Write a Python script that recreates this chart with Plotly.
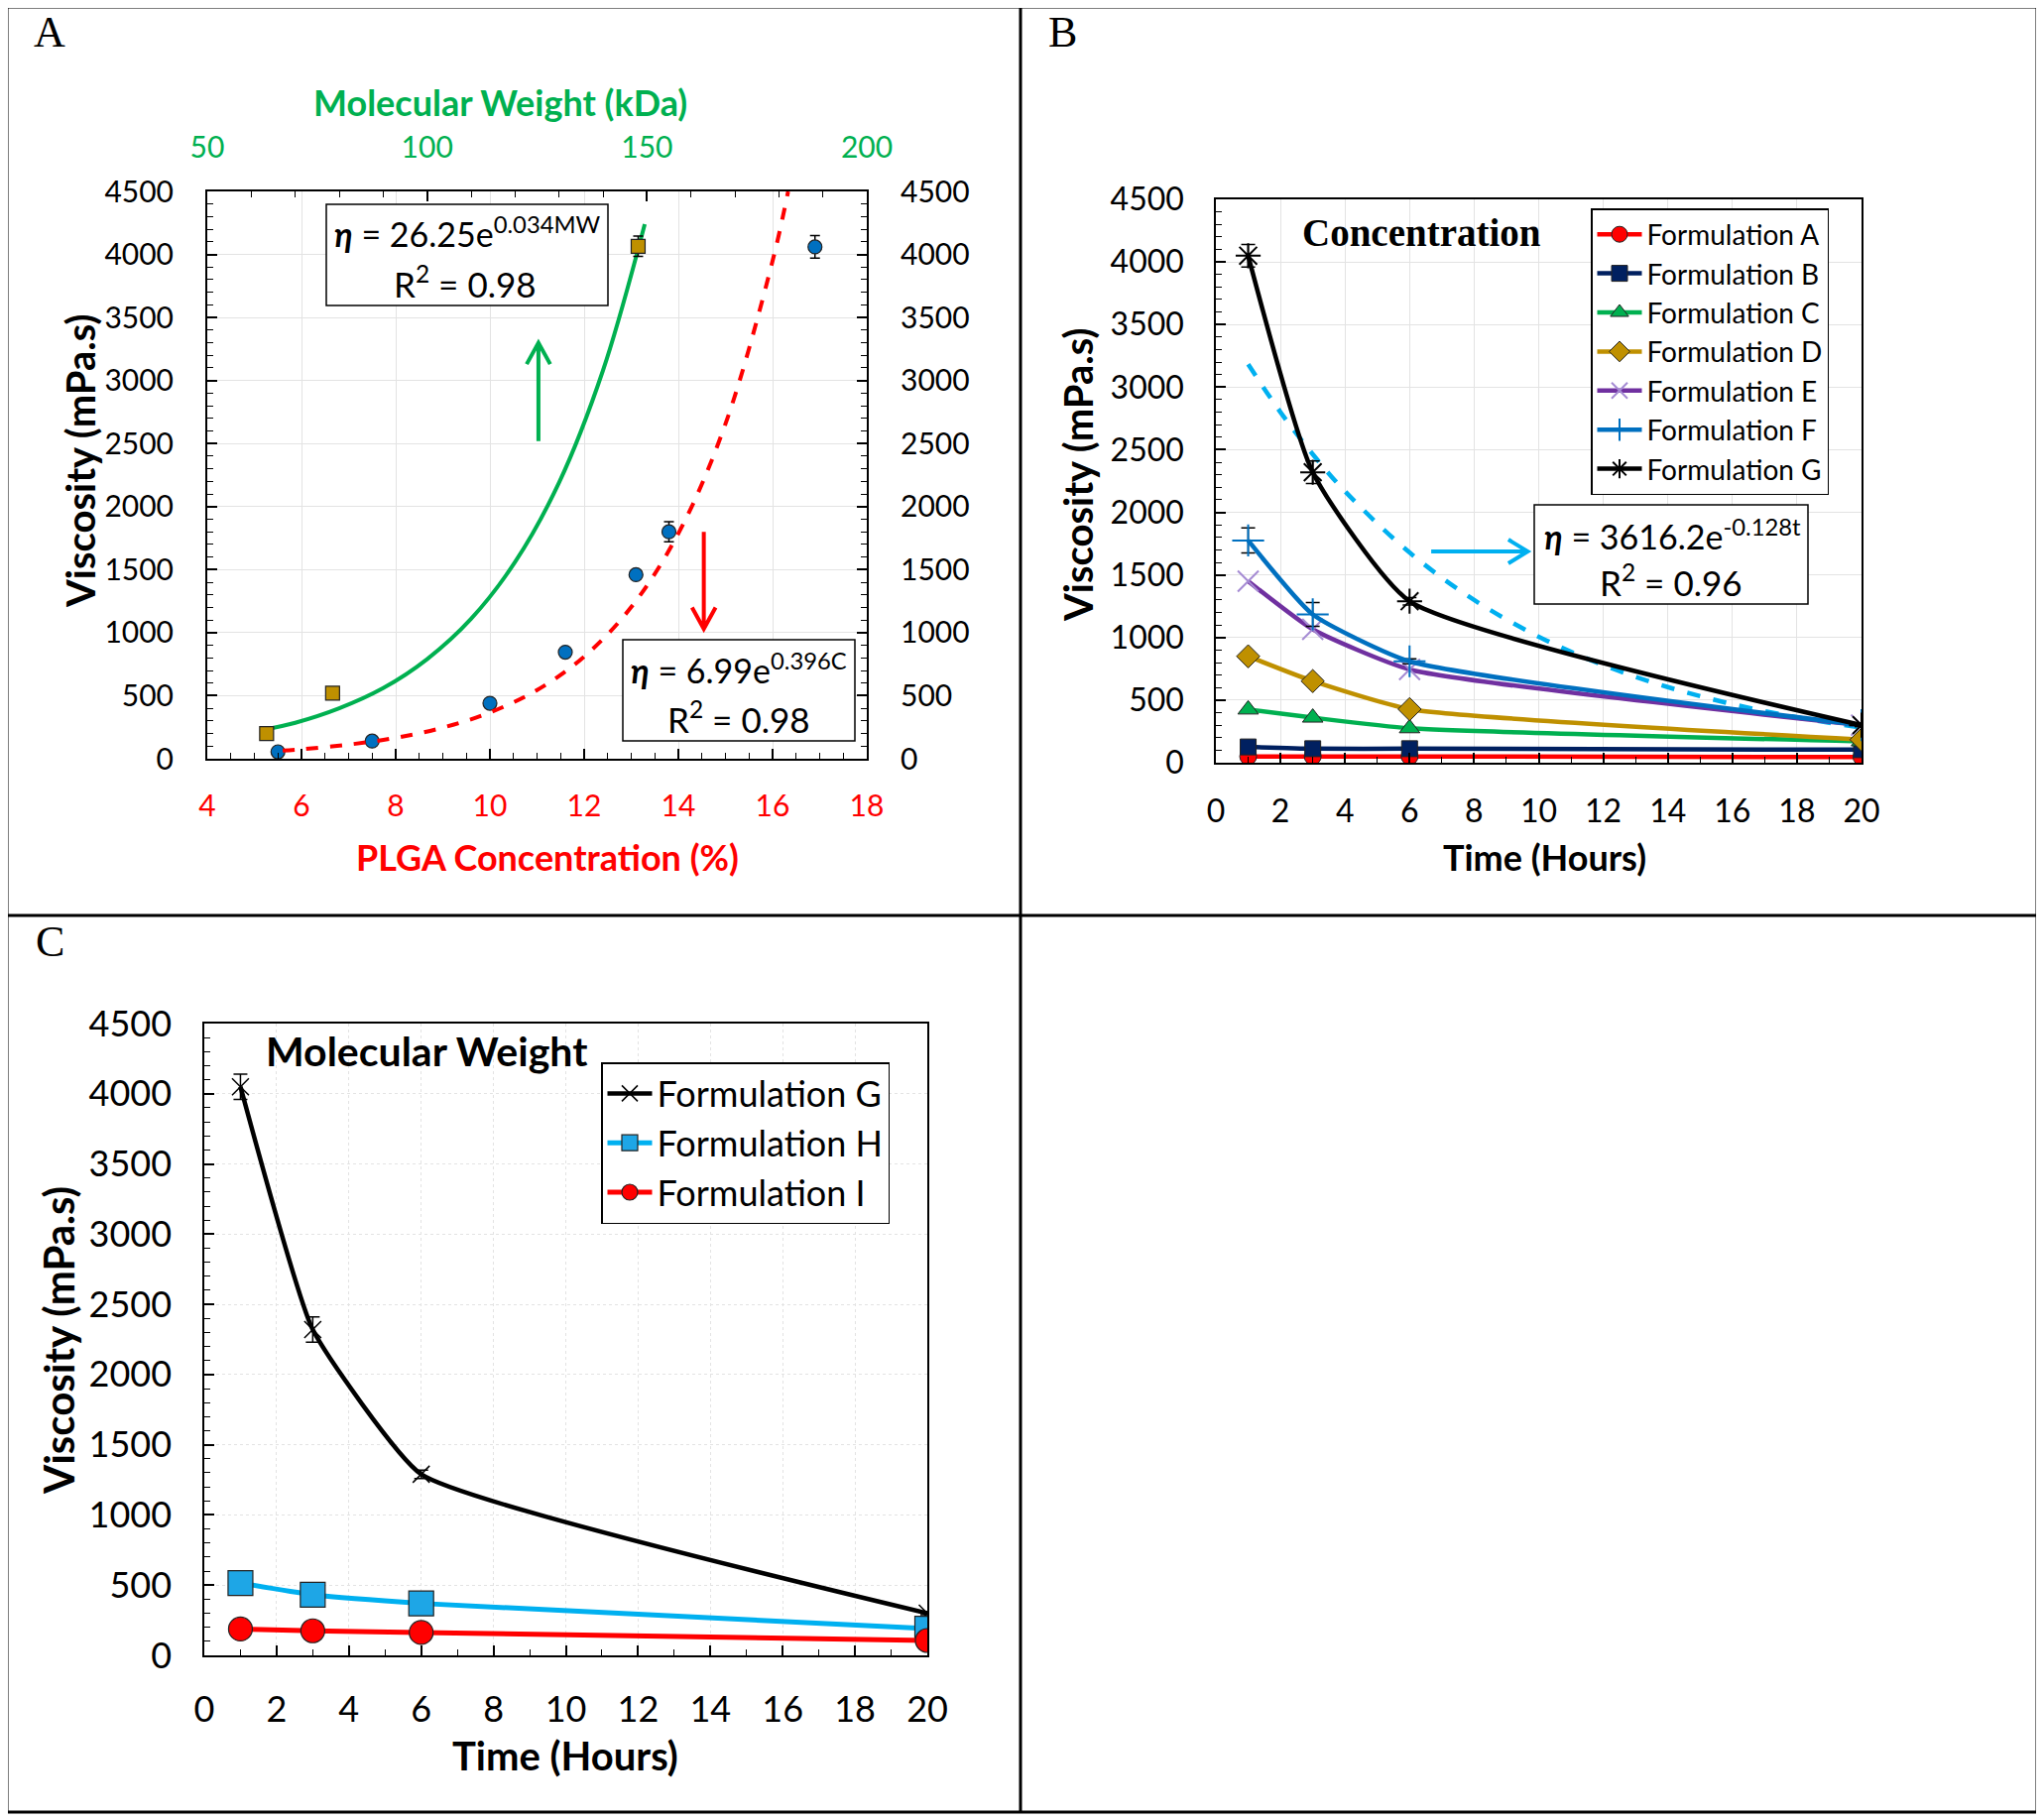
import plotly.graph_objects as go

W, H = 2061, 1835
PAGE_PAD = 8  # the page body keeps a default 8 px margin around the figure

# ---- Panel A data: viscosity vs PLGA concentration / molecular weight
conc_pct = [5.5, 7.5, 10.0, 11.6, 13.1, 13.8, 16.9]
conc_visc = [55, 140, 440, 845, 1460, 1800, 4060]
conc_err = [10, 15, 20, 25, 30, 80, 90]
mw_kda = [63.5, 78.5, 148.0]
mw_visc = [200, 520, 4065]
mw_err = [10, 15, 80]

# trend lines
mw_fit_x = [63, 70, 80, 90, 100, 110, 120, 130, 140, 149.5]
mw_fit_y = [230, 285, 400, 560, 790, 1110, 1560, 2190, 3080, 4240]
conc_fit_x = [5.6, 6, 7, 8, 9, 10, 11, 12, 13, 14, 15, 16, 16.33]
conc_fit_y = [64, 75, 112, 166, 247, 367, 545, 810, 1203, 1787, 2656, 3949, 4500]

# ---- Panel B data: viscosity vs time, concentration series
time_h = [1, 3, 6, 20]
form_a = [50, 50, 50, 45]
form_b = [126, 112, 112, 104]
form_c = [425, 360, 275, 170]
form_d = [850, 652, 428, 184]
form_e = [1450, 1065, 745, 300]
form_f = [1775, 1185, 810, 300]
form_f_err = [100, 95, 20, 10]
form_g = [4050, 2320, 1290, 300]
form_g_err = [90, 90, 30, 10]
g_fit_t = [1, 2, 3, 4, 6, 8, 10, 12, 14, 16, 18, 20]
g_fit_v = [3182, 2800, 2464, 2168, 1679, 1300, 1007, 780, 604, 468, 362, 280]

# ---- Panel C data: viscosity vs time, molecular weight series
form_h = [515, 432, 370, 190]
form_i = [188, 175, 163, 106]

FONT = "Lato"
SERIF = "Liberation Serif"
GREEN = "#00B050"
RED = "#FF0000"
EDGE = "#222222"


def fx(p):
    return (p - PAGE_PAD) / W


def fy(p):
    return 1 - (p - PAGE_PAD) / H


fig = go.Figure()

# panel A
fig.add_trace(go.Scatter(x=mw_fit_x, y=mw_fit_y, xaxis="x2", yaxis="y", mode="lines",
                         line=dict(color=GREEN, width=4, shape="spline"), showlegend=False))
fig.add_trace(go.Scatter(x=conc_fit_x, y=conc_fit_y, xaxis="x", yaxis="y2", mode="lines",
                         line=dict(color=RED, width=4, dash="dash", shape="spline"), showlegend=False))
fig.add_trace(go.Scatter(x=mw_kda, y=mw_visc, xaxis="x2", yaxis="y", mode="markers",
                         marker=dict(symbol="square", size=14, color="#BF9000", line=dict(color=EDGE, width=1.2)),
                         error_y=dict(type="data", array=mw_err, color="black", thickness=1.5, width=5),
                         showlegend=False))
fig.add_trace(go.Scatter(x=conc_pct, y=conc_visc, xaxis="x", yaxis="y", mode="markers",
                         marker=dict(symbol="circle", size=14, color="#0070C0", line=dict(color=EDGE, width=1.2)),
                         error_y=dict(type="data", array=conc_err, color="black", thickness=1.5, width=5),
                         showlegend=False))

# panel B
fig.add_trace(go.Scatter(x=g_fit_t, y=g_fit_v, xaxis="x3", yaxis="y3", mode="lines",
                         line=dict(color="#00B0F0", width=4.5, dash="dash", shape="spline"), showlegend=False))
b_series = [
    ("Formulation A", form_a, None, "#FF0000", dict(symbol="circle", size=17, color="#FF0000", line=dict(color=EDGE, width=1))),
    ("Formulation B", form_b, None, "#002060", dict(symbol="square", size=16, color="#002060", line=dict(color=EDGE, width=1))),
    ("Formulation C", form_c, None, GREEN, dict(symbol="triangle-up", size=18, color=GREEN, line=dict(color=EDGE, width=1))),
    ("Formulation D", form_d, None, "#BF9000", dict(symbol="diamond", size=18, color="#BF9000", line=dict(color=EDGE, width=1))),
    ("Formulation E", form_e, None, "#7030A0", dict(symbol="x-thin-open", size=21, color="#A58BD3", line=dict(color="#A58BD3", width=2))),
    ("Formulation F", form_f, form_f_err, "#0070C0", dict(symbol="cross-thin-open", size=23, color="#0070C0", line=dict(color="#0070C0", width=2))),
    ("Formulation G", form_g, form_g_err, "black", dict(symbol="asterisk-open", size=21, color="black", line=dict(color="black", width=2))),
]
for name, vals, err, col, mk in b_series:
    fig.add_trace(go.Scatter(
        x=time_h, y=vals, xaxis="x3", yaxis="y3", name=name, mode="lines+markers",
        line=dict(color=col, width=4.5, shape="spline", smoothing=0.5), marker=mk,
        error_y=dict(type="data", array=err, color="black", thickness=1.5, width=7) if err else None,
        legend="legend"))

# panel C
fig.add_trace(go.Scatter(x=time_h, y=form_g, xaxis="x4", yaxis="y4", name="Formulation G", mode="lines+markers",
                         line=dict(color="black", width=4.5, shape="spline", smoothing=0.4),
                         marker=dict(symbol="x-thin-open", size=17, color="black", line=dict(color="black", width=1.5)),
                         error_y=dict(type="data", array=form_g_err, color="black", thickness=1.5, width=7),
                         legend="legend2"))
fig.add_trace(go.Scatter(x=time_h, y=form_h, xaxis="x4", yaxis="y4", name="Formulation H", mode="lines+markers",
                         line=dict(color="#00B0F0", width=5, shape="spline", smoothing=0.6),
                         marker=dict(symbol="square", size=25, color="#1EA6E6", line=dict(color=EDGE, width=1.2)),
                         legend="legend2"))
fig.add_trace(go.Scatter(x=time_h, y=form_i, xaxis="x4", yaxis="y4", name="Formulation I", mode="lines+markers",
                         line=dict(color="#FF0000", width=5, shape="spline", smoothing=0.6),
                         marker=dict(symbol="circle", size=24, color="#FF0000", line=dict(color=EDGE, width=1.2)),
                         legend="legend2"))


def ax(domain, rng, dtick, minor, size, color="black", **kw):
    d = dict(domain=domain, range=rng, dtick=dtick, tick0=0, showline=True, linecolor="black", linewidth=2,
             ticks="inside", ticklen=10, tickwidth=1.5, tickcolor="black", automargin=False,
             minor=dict(dtick=minor, ticks="inside", ticklen=6, tickwidth=1, tickcolor="black", showgrid=False),
             showgrid=True, gridcolor="#E3E3E3", gridwidth=1, zeroline=False, fixedrange=True,
             tickfont=dict(family=FONT, size=size, color=color))
    d.update(kw)
    return d


dA_x = [fx(209), fx(874)]
dA_y = [fy(765), fy(193)]
dB_x = [fx(1226), fx(1877)]
dB_y = [fy(769), fy(201)]
dC_x = [fx(206), fx(935)]
dC_y = [fy(1669), fy(1032)]

fig.update_layout(
    width=W, height=H, margin=dict(l=0, r=0, t=0, b=0, autoexpand=False),
    paper_bgcolor="white", plot_bgcolor="white",
    xaxis=ax(dA_x, [4, 18], 2, 0.5, 30, RED, anchor="y", ticklabelstandoff=20),
    xaxis2=ax(dA_x, [50, 200], 50, 10, 30, GREEN, anchor="y", overlaying="x", side="top",
              showgrid=False, ticklabelstandoff=20),
    yaxis=ax(dA_y, [0, 4500], 500, 100, 30, anchor="x", ticklabelstandoff=26),
    yaxis2=ax(dA_y, [0, 4500], 500, 100, 30, anchor="x", overlaying="y", side="right",
              showgrid=False, ticklabelstandoff=26),
    xaxis3=ax(dB_x, [0, 20], 2, 1, 32, anchor="y3", mirror=True, linewidth=1.5, ticklabelstandoff=20),
    yaxis3=ax(dB_y, [0, 4500], 500, 100, 32, anchor="x3", mirror=True, linewidth=1.5, ticklabelstandoff=24),
    xaxis4=ax(dC_x, [0, 20], 2, 1, 36, anchor="y4", mirror=True, linewidth=1.5, griddash="dot",
              ticklabelstandoff=22),
    yaxis4=ax(dC_y, [0, 4500], 500, 100, 36, anchor="x4", mirror=True, linewidth=1.5, griddash="dot",
              ticklabelstandoff=24),
    legend=dict(x=fx(1604), y=fy(210), xanchor="left", yanchor="top", bgcolor="white",
                bordercolor="black", borderwidth=1.5, itemwidth=45, tracegroupgap=0,
                font=dict(family=FONT, size=28, color="black")),
    legend2=dict(x=fx(606), y=fy(1071), xanchor="left", yanchor="top", bgcolor="white",
                 bordercolor="black", borderwidth=1.5, itemwidth=45, tracegroupgap=0,
                 font=dict(family=FONT, size=36, color="black")),
)

# frame of the figure
shapes = [
    dict(type="rect", xref="paper", yref="paper", x0=fx(7), x1=fx(2054), y0=fy(1827), y1=fy(7),
         line=dict(color="black", width=3)),
    dict(type="line", xref="paper", yref="paper", x0=fx(1029), x1=fx(1029), y0=fy(1827), y1=fy(7),
         line=dict(color="black", width=3)),
    dict(type="line", xref="paper", yref="paper", x0=fx(7), x1=fx(2054), y0=fy(923), y1=fy(923),
         line=dict(color="black", width=3)),
]
# equation boxes
for x0, x1, y0, y1 in [(329, 613, 206, 308), (628, 862, 645, 747), (1547, 1823, 509, 609)]:
    shapes.append(dict(type="rect", xref="paper", yref="paper", x0=fx(x0), x1=fx(x1), y0=fy(y1), y1=fy(y0),
                       fillcolor="white", line=dict(color="black", width=1.5), layer="above"))


def arrow(xr, yr, xa, ya, xb, yb, hx, hy, col):
    # shaft from (xa, ya) to head at (xb, yb); hx, hy are head offsets
    if xa == xb:
        s = 1 if yb > ya else -1
        path = f"M{xa},{ya} L{xb},{yb} M{xb - hx},{yb - s * hy} L{xb},{yb} L{xb + hx},{yb - s * hy}"
    else:
        s = 1 if xb > xa else -1
        path = f"M{xa},{ya} L{xb},{yb} M{xb - s * hx},{yb - hy} L{xb},{yb} L{xb - s * hx},{yb + hy}"
    return dict(type="path", xref=xr, yref=yr, path=path, line=dict(color=col, width=4))


shapes.append(arrow("x", "y", 11.03, 2520, 11.03, 3300, 0.25, 170, GREEN))
shapes.append(arrow("x", "y", 14.54, 1800, 14.54, 1030, 0.25, 170, RED))
shapes.append(arrow("x3", "y3", 6.67, 1687, 9.66, 1687, 0.6, 95, "#00B0F0"))
fig.update_layout(shapes=shapes)

ann = []


def txt(x, y, s, size, color="black", family=FONT, angle=0):
    ann.append(dict(x=fx(x), y=fy(y), xref="paper", yref="paper", text=s, showarrow=False,
                    xanchor="center", yanchor="middle", textangle=angle,
                    font=dict(family=family, size=size, color=color)))


txt(50, 33, "A", 44, family=SERIF)
txt(1071, 33, "B", 44, family=SERIF)
txt(50, 949, "C", 44, family=SERIF)

txt(504, 103, "<b>Molecular Weight (kDa)</b>", 36, GREEN)
txt(552, 864, "<b>PLGA Concentration (%)</b>", 36, RED)
txt(81, 465, "<b>Viscosity (mPa.s)</b>", 40, angle=-90)
txt(1087, 479, "<b>Viscosity (mPa.s)</b>", 40, angle=-90)
txt(1557, 864, "<b>Time (Hours)</b>", 36)
txt(59, 1352, "<b>Viscosity (mPa.s)</b>", 42, angle=-90)
txt(570, 1770, "<b>Time (Hours)</b>", 40)

txt(1433, 234, "<b>Concentration</b>", 39, family=SERIF)
txt(430, 1059, "<b>Molecular Weight</b>", 41)

eta = "<b><i>η</i></b>"
txt(471, 234, f"{eta} = 26.25e<sup>0.034MW</sup>", 34)
txt(469, 284, "R<sup>2</sup> = 0.98", 35)
txt(745, 674, f"{eta} = 6.99e<sup>0.396C</sup>", 34)
txt(745, 723, "R<sup>2</sup> = 0.98", 35)
txt(1686, 539, f"{eta} = 3616.2e<sup>-0.128t</sup>", 34)
txt(1685, 585, "R<sup>2</sup> = 0.96", 35)

fig.update_layout(annotations=ann)

fig.write_html("out.html")
